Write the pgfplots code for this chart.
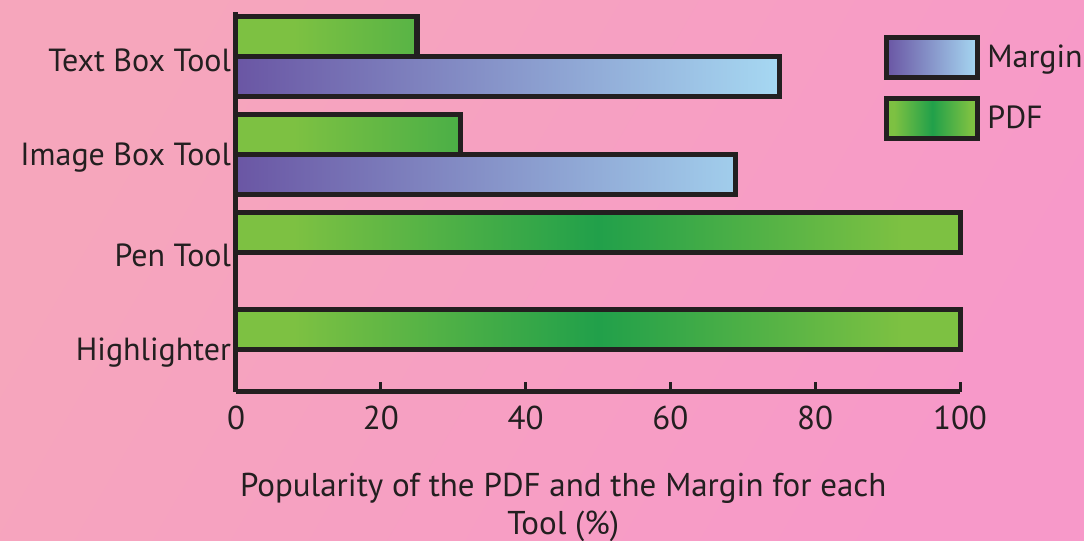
\documentclass[border=0pt]{standalone}
\usepackage{fontspec}
\setmainfont{PT Sans}
\usepackage{pgfplots}
\pgfplotsset{compat=1.18}
\definecolor{dk}{HTML}{231F20}
\definecolor{mpurple}{HTML}{6A56A4}
\definecolor{mblue}{HTML}{A6D8F2}
\definecolor{gedge}{HTML}{7DC142}
\definecolor{gmid}{HTML}{21A04A}
\definecolor{bgA}{HTML}{F6A6BC}
\definecolor{bgB}{HTML}{F799C9}
\pgfdeclarehorizontalshading{pdfshade}{100bp}{color(0bp)=(gedge); color(29bp)=(gedge); color(50bp)=(gmid); color(71bp)=(gedge); color(100bp)=(gedge)}
\tikzset{
  marginstyle/.style={draw=dk, line width=2.5pt, left color=mpurple, right color=mblue},
  pdfstyle/.style={draw=dk, line width=2.5pt, shade, shading=pdfshade},
}
\begin{document}
\begin{tikzpicture}
\shade[left color=bgA, right color=bgB, shading angle=60] (0pt,0pt) rectangle (542pt,270.5pt);
\path[use as bounding box] (0pt,0pt) rectangle (542pt,270.5pt);
\begin{axis}[
  at={(118pt,74.5pt)}, anchor=south west,
  scale only axis, width=362pt, height=190pt,
  xbar, bar width=20pt,
  xmin=0, xmax=100, ymin=-0.43, ymax=3.46,
  clip=false,
  axis x line*=bottom, axis y line*=left,
  axis line style={line width=2.5pt, color=dk, -},
  xtick={0,20,40,60,80,100},
  ytick={0,1,2,3},
  yticklabels={Highlighter, Pen Tool, Image Box Tool, Text Box Tool},
  tick align=inside, major tick length=5pt,
  tick style={line width=1.5pt, color=dk},
  /pgf/number format/assume math mode=true,
  tick label style={font=\fontsize{16}{19}\selectfont, text=dk},
  xticklabel style={yshift=-3.5pt, font=\fontsize{16.5}{19}\selectfont},
  yticklabel style={yshift=-1.5pt, xshift=1pt},
  xlabel={Popularity of the PDF and the Margin for each\\Tool (\%)},
  xlabel style={align=center, font=\fontsize{16.5}{19}\selectfont, text=dk,
    at={(axis description cs:0.452,0)}, anchor=north, yshift=-37pt},
  legend style={at={(0.895,0.94)}, anchor=north west, draw=none, fill=none,
    inner sep=0pt, row sep=8pt, font=\fontsize{16}{19}\selectfont, text=dk,
    nodes={inner sep=0pt}},
  legend cell align=left,
]
\addplot[marginstyle, bar shift=-10pt,
  legend image code/.code={\draw[marginstyle] (0pt,-10pt) rectangle (45.5pt,10pt); \path (49pt,0pt);}]
  coordinates {(75,3) (69,2)};
\addlegendentry{Margin}
\addplot[pdfstyle, bar shift=10pt,
  legend image code/.code={\draw[pdfstyle] (0pt,-10pt) rectangle (45.5pt,10pt); \path (49pt,0pt);}]
  coordinates {(25,3) (31,2) (100,1) (100,0)};
\addlegendentry{PDF}
\end{axis}
\end{tikzpicture}
\end{document}
